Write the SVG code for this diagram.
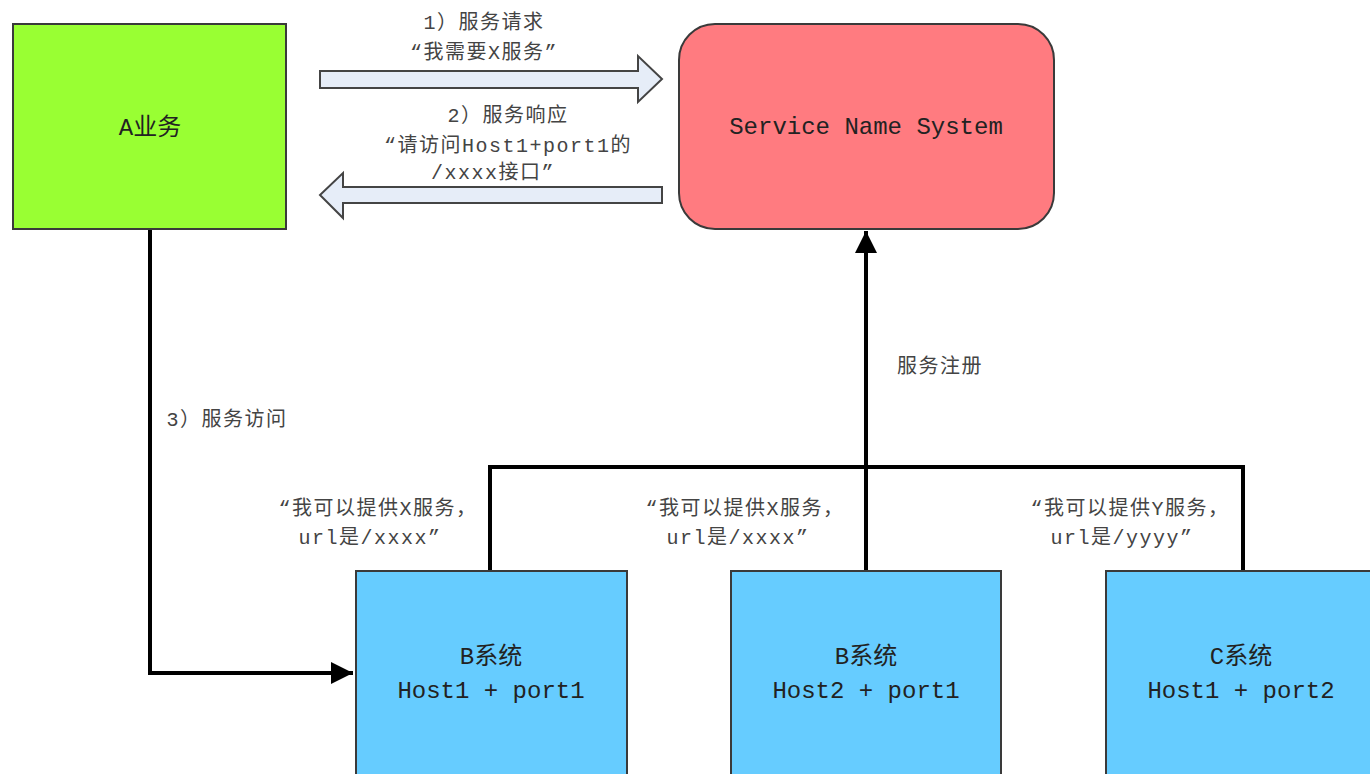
<svg xmlns="http://www.w3.org/2000/svg" width="1370" height="774" viewBox="0 0 1370 774">
  <style>
    .box { stroke: #3a3a3a; stroke-width: 2; }
    .label { font-family: "Liberation Mono", "Noto Sans CJK SC", monospace; fill: #222; text-anchor: middle; }
    .big { font-size: 24px; }
    .note { font-family: "Liberation Mono", "Noto Sans CJK SC", monospace; font-size: 20px; fill: #444; text-anchor: middle; letter-spacing: 1.5px; }
    .wire { fill: none; stroke: #000; stroke-width: 4; stroke-linejoin: miter; }
    .fat { fill: #e6edf8; stroke: #444; stroke-width: 2; stroke-linejoin: miter; }
  </style>
  <defs>
    <marker id="tri" viewBox="0 0 10 10" refX="10" refY="5" markerWidth="5.5" markerHeight="5.5" orient="auto" markerUnits="strokeWidth">
      <path d="M0,0 L10,5 L0,10 Z" fill="#000"/>
    </marker>
  </defs>
  <rect width="1370" height="774" fill="#fff"/>

  <!-- connectors -->
  <g id="connectors">
    <!-- A to B host1 -->
    <path class="wire" d="M150,229 V673 H353" marker-end="url(#tri)"/>
    <!-- registration bus -->
    <path class="wire" d="M490,571 V467 H1243 V571"/>
    <path class="wire" d="M866,571 V231" marker-end="url(#tri)"/>
    <!-- request / response block arrows -->
    <path class="fat" d="M320,71 H638 V56 L662,79 L638,102 V88 H320 Z"/>
    <path class="fat" d="M662,187 H343 V173 L320,195 L343,218 V203 H662 Z"/>
  </g>

  <!-- labels on connectors -->
  <g id="connector-labels">
    <text class="note" x="484" y="29">1）服务请求</text>
    <text class="note" x="484" y="59">“我需要X服务”</text>
    <text class="note" x="508" y="122">2）服务响应</text>
    <text class="note" x="508" y="152">“请访问Host1+port1的</text>
    <text class="note" x="493" y="179">/xxxx接口”</text>
    <text class="note" x="940" y="373">服务注册</text>
    <text class="note" x="227" y="426">3）服务访问</text>
    <text class="note" x="378" y="515">“我可以提供X服务，</text>
    <text class="note" x="370" y="544">url是/xxxx”</text>
    <text class="note" x="745" y="515">“我可以提供X服务，</text>
    <text class="note" x="738" y="544">url是/xxxx”</text>
    <text class="note" x="1130" y="515">“我可以提供Y服务，</text>
    <text class="note" x="1122" y="544">url是/yyyy”</text>
  </g>

  <g id="node-a">
    <rect class="box" x="13" y="24" width="273" height="205" fill="#99ff33"/>
    <text class="label big" x="150" y="135">A业务</text>
  </g>

  <g id="node-sns">
    <rect class="box" x="679" y="24" width="375" height="205" rx="36" ry="36" fill="#ff7b80"/>
    <text class="label big" x="866" y="134">Service Name System</text>
  </g>

  <g id="node-b1">
    <rect class="box" x="356" y="571" width="271" height="210" fill="#66ccff"/>
    <text class="label big" x="491" y="664">B系统</text>
    <text class="label big" x="491" y="698">Host1 + port1</text>
  </g>

  <g id="node-b2">
    <rect class="box" x="731" y="571" width="270" height="210" fill="#66ccff"/>
    <text class="label big" x="866" y="664">B系统</text>
    <text class="label big" x="866" y="698">Host2 + port1</text>
  </g>

  <g id="node-c">
    <rect class="box" x="1106" y="571" width="270" height="210" fill="#66ccff"/>
    <text class="label big" x="1241" y="664">C系统</text>
    <text class="label big" x="1241" y="698">Host1 + port2</text>
  </g>
</svg>
